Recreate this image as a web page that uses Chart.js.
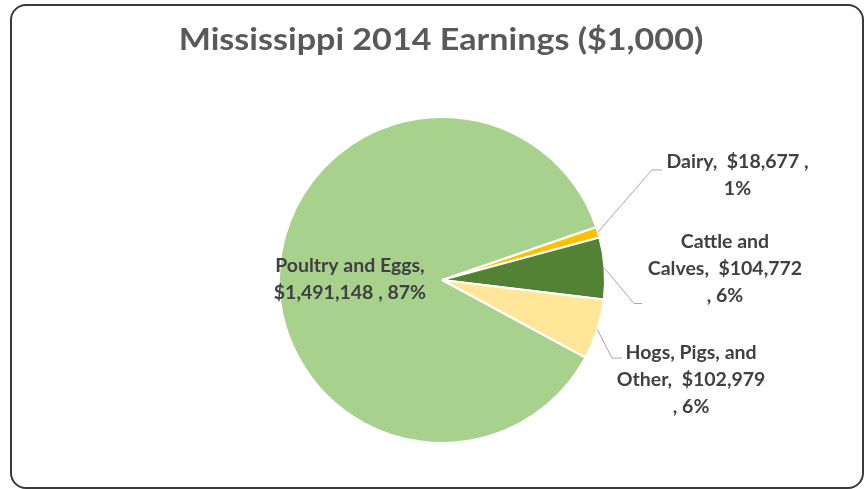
<!DOCTYPE html>
<html>
<head>
<meta charset="utf-8">
<script src="https://cdn.jsdelivr.net/npm/chart.js@4"></script>
<style>
  html, body { margin: 0; padding: 0; background: #fff; }
  #wrap { position: relative; width: 865px; height: 489px; overflow: hidden; }
  #frame { position: absolute; left: 10px; top: 4px; width: 850px; height: 481px;
           border: 2px solid #3a3a3a; border-radius: 16px; box-sizing: content-box; }
  canvas { position: absolute; left: 0; top: 0; }
</style>
</head>
<body>
<div id="wrap">
  <div id="frame"></div>
  <canvas id="c" width="865" height="489"></canvas>
</div>
<script>
const titleText = 'Mississippi 2014 Earnings ($1,000)';
const categories = ['Dairy', 'Cattle and Calves', 'Hogs, Pigs, and Other', 'Poultry and Eggs'];
const values = [18677, 104772, 102979, 1491148];
const percentLabels = ['1%', '6%', '6%', '87%'];
const labelLines = [
  ['Dairy,  $18,677 ,', '1%'],
  ['Cattle and', 'Calves,  $104,772', ', 6%'],
  ['Hogs, Pigs, and', 'Other,  $102,979', ', 6%'],
  ['Poultry and Eggs,', '$1,491,148 , 87%']
];
const colors = ['#FFC000', '#548235', '#FFE699', '#A9D18E'];

// label layout (in units of the pie radius, relative to pie centre)
const labelLayout = [
  { x: 1.813, y: -0.724, leader: [[1.288, -0.675], [1.35, -0.675]] },
  { x: 1.736, y: -0.236, leader: [[1.178, 0.144], [1.227, 0.144]] },
  { x: 1.528, y: 0.448, leader: [[1.043, 0.479], [1.104, 0.479]] },
  { x: -0.565, y: -0.086, leader: null }
];

const labelPlugin = {
  id: 'sliceLabels',
  afterDatasetsDraw(chart) {
    const ctx = chart.ctx;
    const meta = chart.getDatasetMeta(0);
    ctx.save();
    meta.data.forEach((arc, i) => {
      const cx = arc.x, cy = arc.y, R = arc.outerRadius;
      const lay = labelLayout[i];
      if (lay.leader) {
        const mid = (arc.startAngle + arc.endAngle) / 2;
        ctx.beginPath();
        ctx.strokeStyle = '#A6A6A6';
        ctx.lineWidth = 1;
        ctx.moveTo(cx + R * Math.cos(mid), cy + R * Math.sin(mid));
        lay.leader.forEach(p => ctx.lineTo(cx + p[0] * R, cy + p[1] * R));
        ctx.stroke();
      }
      ctx.fillStyle = '#404040';
      ctx.font = 'bold 19.5px Lato';
      ctx.textAlign = 'center';
      ctx.textBaseline = 'middle';
      labelLines[i].forEach((t, k) => {
        ctx.fillText(t, cx + lay.x * R, cy + lay.y * R + k * 27);
      });
    });
    // title (slightly widened to match the reference's letter proportions)
    ctx.translate(441, 50);
    ctx.scale(1.1, 1);
    ctx.fillStyle = '#595959';
    ctx.font = 'bold 31px Lato';
    ctx.textAlign = 'center';
    ctx.textBaseline = 'alphabetic';
    ctx.fillText(titleText, 0, 0);
    ctx.restore();
  }
};

new Chart(document.getElementById('c'), {
  type: 'pie',
  data: {
    labels: categories,
    datasets: [{
      data: values,
      backgroundColor: colors,
      borderColor: '#ffffff',
      borderWidth: 2,
      hoverOffset: 0
    }]
  },
  options: {
    responsive: false,
    animation: false,
    rotation: 71,
    layout: { padding: { top: 116, left: 278, right: 259, bottom: 45 } },
    plugins: {
      legend: { display: false },
      tooltip: { enabled: false },
      title: { display: false }
    }
  },
  plugins: [labelPlugin]
});
</script>
</body>
</html>
